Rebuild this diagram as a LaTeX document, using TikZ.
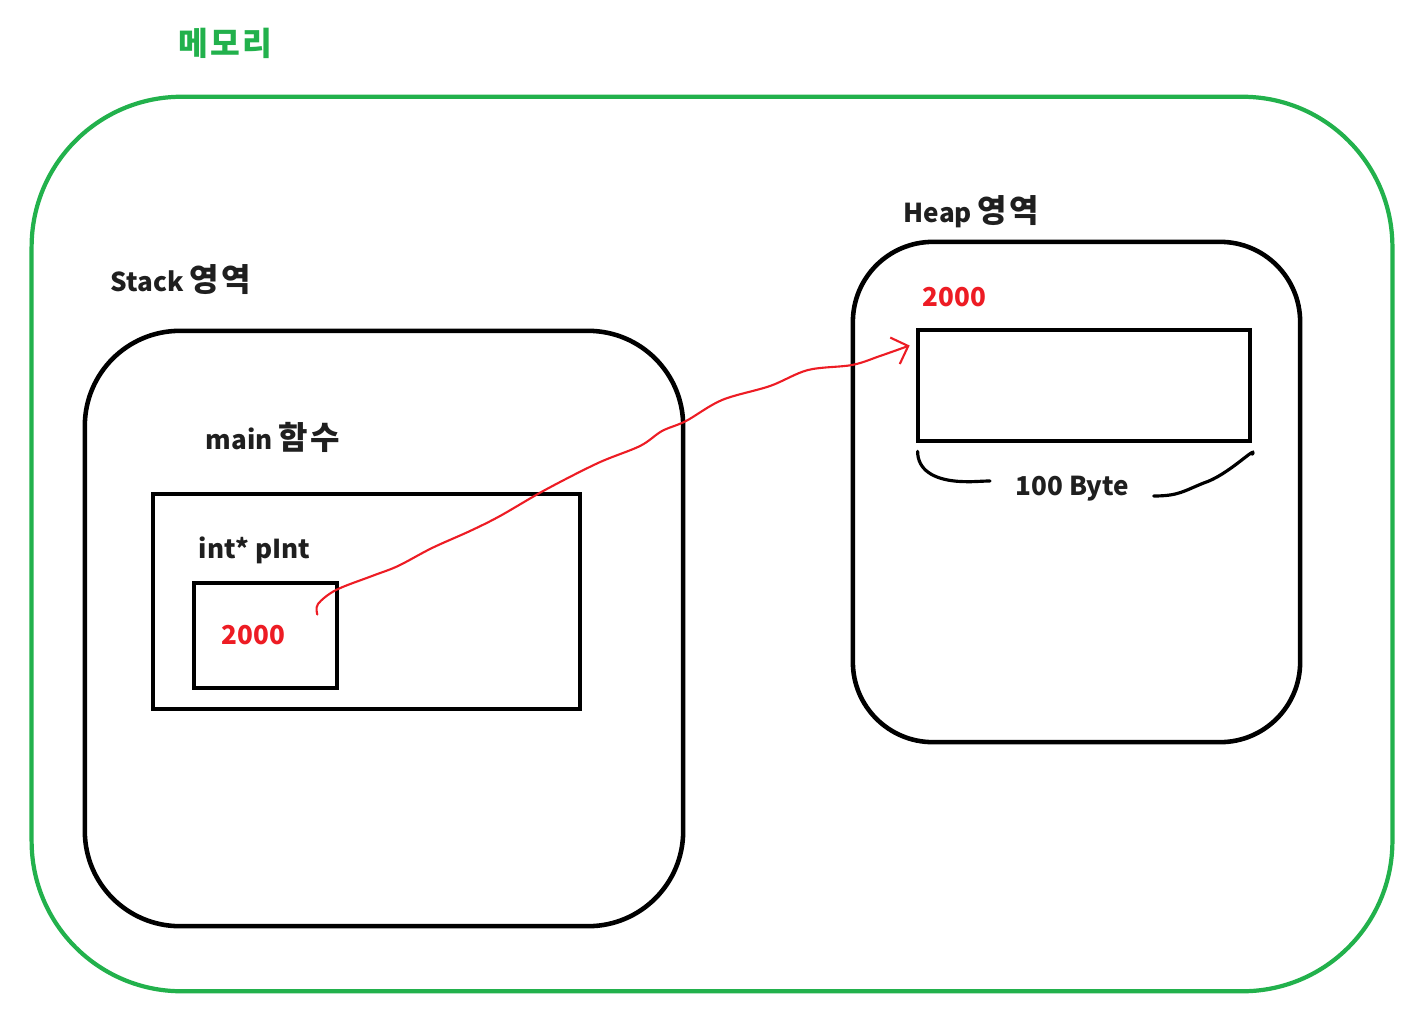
\documentclass[tikz,border=0pt]{standalone}
\usepackage{fontspec}
\setmainfont{Noto Sans CJK KR}
\usetikzlibrary{positioning, calc, arrows.meta}
\definecolor{paintgreen}{HTML}{22B14C}
\definecolor{paintred}{HTML}{ED1C24}
\newcommand{\ko}[1]{{\fontsize{9.1}{9}\selectfont\addfontfeatures{LetterSpace=8}#1}}
\tikzset{
    region/.style={draw, line width=1.3pt, inner sep=0pt},
    cell/.style={draw, line width=1.3pt, inner sep=0pt},
    lbl/.style={font=\fontsize{7.4}{9}\selectfont\bfseries, text=black!88, anchor=west, inner sep=0pt},
    ptr/.style={draw=paintred, line width=0.6pt, line cap=round, line join=round, -{Straight Barb[length=4pt, width=8pt]}}
}
\begin{document}
\begin{tikzpicture}[x=0.01cm, y=-0.01cm]
        \useasboundingbox (0,0) rectangle (1419,1012);
        %memoria
        \node[region, draw=paintgreen, line width=1.2pt, rounded corners=1.5cm, minimum width=13.6cm, minimum height=8.94cm] (memory) at (712,544) {};
        \node[lbl, text=paintgreen, font=\fontsize{9.2}{10}\selectfont\bfseries] (memlbl) at (178,43) {\addfontfeatures{LetterSpace=7}메모리};
        %stack
        \node[region, rounded corners=0.95cm, minimum width=5.98cm, minimum height=5.95cm] (stack) at (384,628.5) {};
        \node[lbl] (stacklbl) at (110,280) {Stack \ko{영역}};
        %heap
        \node[region, rounded corners=0.8cm, minimum width=4.47cm, minimum height=5cm] (heap) at (1076.5,492) {};
        \node[lbl] (heaplbl) at (903,212) {Heap \ko{영역}};
        %main
        \node[cell, minimum width=4.27cm, minimum height=2.15cm] (mainframe) at (366.5,601.5) {};
        \node[lbl] (mainlbl) at (205,437) {main \ko{함수}};
        %puntatore
        \node[cell, minimum width=1.43cm, minimum height=1.05cm] (pint) at (265.5,635.5) {};
        \node[lbl] (pintlbl) at (198,550) {int* pInt};
        \node[lbl, text=paintred] (pintval) at (221,635) {2000};
        %blocco heap
        \node[cell, minimum width=3.32cm, minimum height=1.11cm] (block) at (1084,385.5) {};
        \node[lbl, text=paintred] (blockaddr) at (922,297) {2000};
        \node[lbl] (blocksize) at (1015,489) {100 Byte};
        %graffa
        \draw[line width=0.9pt, line cap=round] ($(block.south west)+(2,8)$) .. controls +(0,18) and +(-25,-2) .. ++(40,30) .. controls +(15,1) and +(-10,0) .. ($(blocksize.west)+(-25,-8)$);
        \draw[line width=0.9pt, line cap=round] ($(blocksize.east)+(24,7)$) .. controls +(25,0) and +(-20,8) .. ++(50,-13) .. controls +(25,-8) and +(5,-10) .. ($(block.south east)+(0,11)$);
        %freccia
        \coordinate (ptrtail) at ($(pint.east)+(-22,-21)$);
        \coordinate (ptrtip) at ($(block.west)+(-6,-40)$);
        \draw[ptr] plot[smooth, tension=0.55] coordinates {(ptrtail) (318,604) (336,590) (372,576) (398,566) (432,548) (470,531) (500,516) (545,490) (598,463) (640,446) (662,431) (686,421) (722,400) (770,386) (808,370) (852,365) (880,356) (ptrtip)};
\end{tikzpicture}
\end{document}
